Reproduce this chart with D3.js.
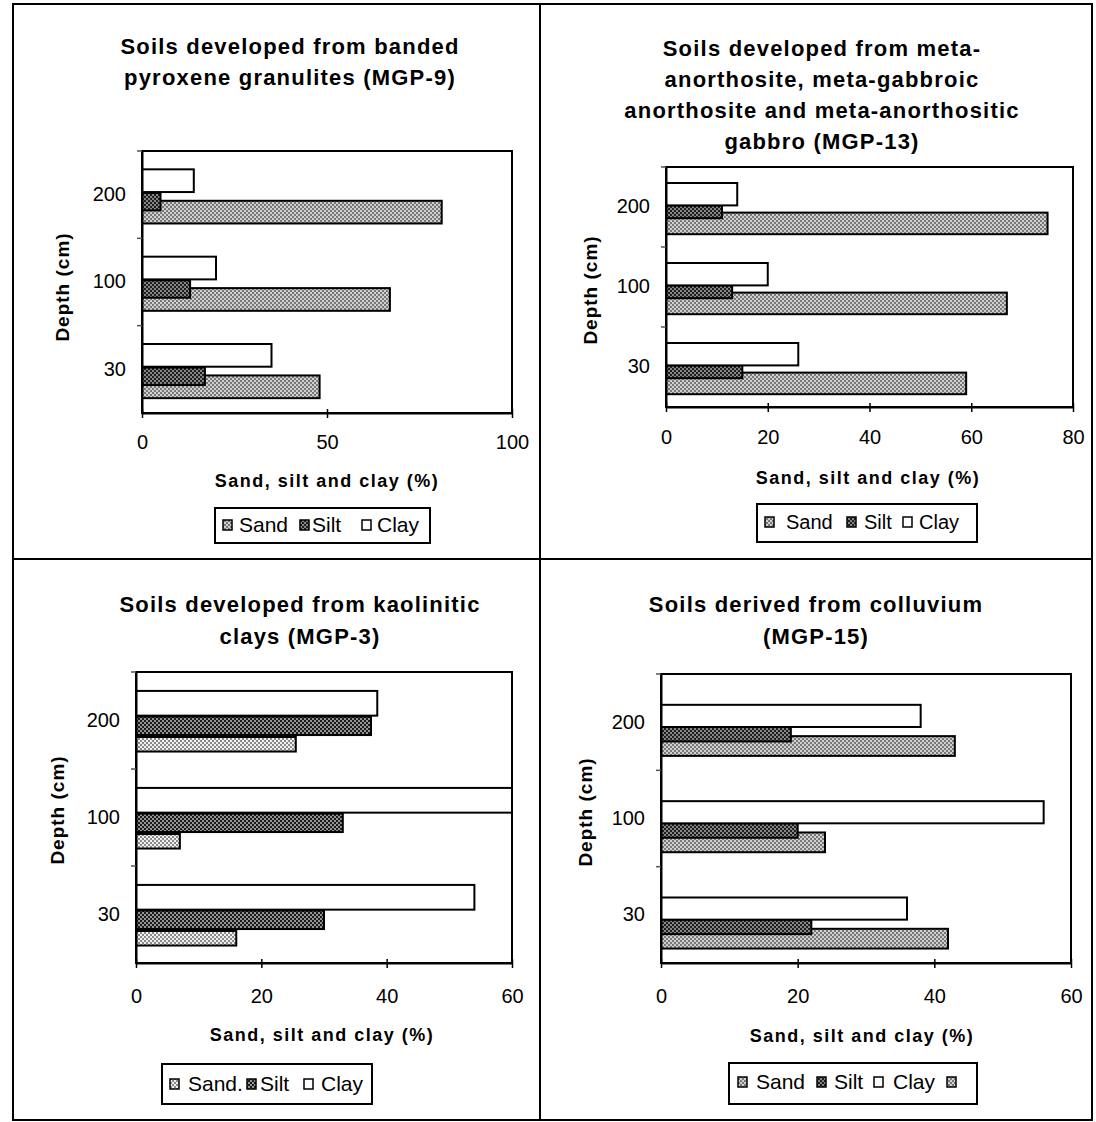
<!DOCTYPE html>
<html>
<head>
<meta charset="utf-8">
<script src="https://cdn.jsdelivr.net/npm/d3@7"></script>
<style>
  html, body { margin: 0; padding: 0; background: #fff; }
  svg { display: block; font-family: "Liberation Sans", Arial, sans-serif; }
</style>
</head>
<body>
<svg id="chart" width="1096" height="1122"></svg>
<script>
// Sampling depths (cm), bottom to top of each panel
const depths = ["30", "100", "200"];

// MGP-9: banded pyroxene granulites
const mgp9Sand = [48, 67, 81];
const mgp9Silt = [17, 13, 5];
const mgp9Clay = [35, 20, 14];

// MGP-13: meta-anorthosite / meta-gabbroic anorthosite / meta-anorthositic gabbro
const mgp13Sand = [59, 67, 75];
const mgp13Silt = [15, 13, 11];
const mgp13Clay = [26, 20, 14];

// MGP-3: kaolinitic clays
const mgp3Sand = [16, 7, 25.5];
const mgp3Silt = [30, 33, 37.5];
const mgp3Clay = [54, 60, 38.5];

// MGP-15: colluvium
const mgp15Sand = [42, 24, 43];
const mgp15Silt = [22, 20, 19];
const mgp15Clay = [36, 56, 38];

// Axis ticks
const ticks100 = [0, 50, 100];
const ticks80 = [0, 20, 40, 60, 80];
const ticks60 = [0, 20, 40, 60];

const axisTitleX = "Sand, silt and clay (%)";
const axisTitleY = "Depth (cm)";

const svg = d3.select("#chart");
const defs = svg.append("defs");

// Stipple fills used for the bars
function checker(id, a, b, size) {
  const p = defs.append("pattern").attr("id", id)
    .attr("patternUnits", "userSpaceOnUse")
    .attr("width", size * 2).attr("height", size * 2);
  p.append("rect").attr("width", size * 2).attr("height", size * 2).attr("fill", b);
  p.append("rect").attr("width", size).attr("height", size).attr("fill", a);
  p.append("rect").attr("x", size).attr("y", size).attr("width", size).attr("height", size).attr("fill", a);
}
checker("sandFill", "#777", "#d0d0d0", 2);
checker("siltFill", "#1e1e1e", "#858585", 2);
checker("sandLight", "#8a8a8a", "#f0f0f0", 2);
checker("siltDark", "#1a1a1a", "#959595", 2);

// Outer frame with the four-panel grid
const frame = { x0: 13, y0: 4, x1: 1092, y1: 1120, mx: 540, my: 559 };
const fg = svg.append("g").attr("fill", "none").attr("stroke", "#000").attr("stroke-width", 2);
fg.append("rect").attr("x", frame.x0).attr("y", frame.y0)
  .attr("width", frame.x1 - frame.x0).attr("height", frame.y1 - frame.y0);
fg.append("line").attr("x1", frame.mx).attr("x2", frame.mx).attr("y1", frame.y0).attr("y2", frame.y1);
fg.append("line").attr("x1", frame.x0).attr("x2", frame.x1).attr("y1", frame.my).attr("y2", frame.my);

const panels = [
  {
    title: ["Soils developed from banded", "pyroxene granulites (MGP-9)"],
    titleX: 290, titleY: 54, lineGap: 31,
    plot: { x0: 142, x1: 512, y0: 151, y1: 413 },
    xMax: 100, xTicks: ticks100,
    sand: mgp9Sand, silt: mgp9Silt, clay: mgp9Clay,
    sandFill: "url(#sandFill)", siltFill: "url(#siltFill)",
    frac: { clay: [0.21, 0.47], silt: [0.48, 0.68], sand: [0.57, 0.83] },
    yLabelX: 62, yLabelY: 287, xLabelX: 327, xLabelY: 487, xTickPad: 22,
    legend: { x: 215, y: 508, w: 215, h: 35, font: 21, baseline: 532,
      sw: [223, 300, 362], tx: [239, 312, 377], labels: ["Sand", "Silt", "Clay"] }
  },
  {
    title: ["Soils developed from meta-", "anorthosite, meta-gabbroic", "anorthosite and meta-anorthositic", "gabbro (MGP-13)"],
    titleX: 822, titleY: 56, lineGap: 31,
    plot: { x0: 666, x1: 1073, y0: 167, y1: 407 },
    xMax: 80, xTicks: ticks80,
    sand: mgp13Sand, silt: mgp13Silt, clay: mgp13Clay,
    sandFill: "url(#sandFill)", siltFill: "url(#siltFill)",
    frac: { clay: [0.2, 0.48], silt: [0.48, 0.64], sand: [0.57, 0.84] },
    yLabelX: 590, yLabelY: 290, xLabelX: 868, xLabelY: 484, xTickPad: 23,
    legend: { x: 757, y: 504, w: 220, h: 38, font: 20, baseline: 529,
      sw: [765, 847, 903], tx: [786, 864, 919], labels: ["Sand", "Silt", "Clay"] }
  },
  {
    title: ["Soils developed from kaolinitic", "clays (MGP-3)"],
    titleX: 300, titleY: 612, lineGap: 32,
    plot: { x0: 136, x1: 512, y0: 672, y1: 963 },
    xMax: 60, xTicks: ticks60,
    sand: mgp3Sand, silt: mgp3Silt, clay: mgp3Clay,
    sandFill: "url(#sandLight)", siltFill: "url(#siltDark)",
    frac: { clay: [0.195, 0.45], silt: [0.46, 0.65], sand: [0.67, 0.82] },
    yLabelX: 57, yLabelY: 810, xLabelX: 322, xLabelY: 1041, xTickPad: 26,
    legend: { x: 162, y: 1064, w: 210, h: 40, font: 21, baseline: 1091,
      sw: [170, 247, 304], tx: [188, 260, 321], labels: ["Sand.", "Silt", "Clay"] }
  },
  {
    title: ["Soils derived from colluvium", "(MGP-15)"],
    titleX: 816, titleY: 612, lineGap: 32,
    plot: { x0: 661, x1: 1071, y0: 674, y1: 963 },
    xMax: 60, xTicks: ticks60,
    sand: mgp15Sand, silt: mgp15Silt, clay: mgp15Clay,
    sandFill: "url(#sandFill)", siltFill: "url(#siltFill)",
    frac: { clay: [0.32, 0.55], silt: [0.55, 0.7], sand: [0.645, 0.85] },
    yLabelX: 585, yLabelY: 812, xLabelX: 862, xLabelY: 1042, xTickPad: 26,
    legend: { x: 729, y: 1063, w: 248, h: 41, font: 21, baseline: 1089,
      sw: [738, 817, 874, 947], tx: [756, 834, 893, null], labels: ["Sand", "Silt", "Clay", ""] }
  }
];

panels.forEach(p => {
  const g = svg.append("g");
  const { x0, x1, y0, y1 } = p.plot;

  // Title
  const t = g.append("text")
    .attr("x", p.titleX).attr("y", p.titleY)
    .attr("text-anchor", "middle")
    .attr("font-weight", "bold").attr("font-size", 22)
    .style("letter-spacing", "1.2px");
  p.title.forEach((line, i) => {
    t.append("tspan").attr("x", p.titleX).attr("y", p.titleY + i * p.lineGap).text(line);
  });

  const x = d3.scaleLinear().domain([0, p.xMax]).range([x0, x1]);
  const y = d3.scaleBand().domain(depths).range([y1, y0]).paddingInner(0).paddingOuter(0);
  const bw = y.bandwidth();

  // Plot area frame
  g.append("rect").attr("x", x0).attr("y", y0)
    .attr("width", x1 - x0).attr("height", y1 - y0)
    .attr("fill", "none").attr("stroke", "#000").attr("stroke-width", 2);

  // Bars: sand first, silt over it, clay on top row
  const series = [
    { key: "sand", vals: p.sand, fill: p.sandFill },
    { key: "silt", vals: p.silt, fill: p.siltFill },
    { key: "clay", vals: p.clay, fill: "#fff" }
  ];
  series.forEach(s => {
    const f = p.frac[s.key];
    g.append("g").selectAll("rect")
      .data(depths.map((d, i) => ({ depth: d, v: s.vals[i] })))
      .join("rect")
      .attr("x", x(0))
      .attr("y", d => y(d.depth) + f[0] * bw)
      .attr("width", d => x(d.v) - x(0))
      .attr("height", (f[1] - f[0]) * bw)
      .attr("fill", s.fill)
      .attr("stroke", "#000").attr("stroke-width", 2);
  });

  // Category axis (labels at band centres, ticks between bands)
  const ya = g.append("g").attr("transform", `translate(${x0},0)`)
    .call(d3.axisLeft(y).tickSize(0).tickPadding(16));
  ya.select(".domain").attr("stroke-width", 2);
  ya.selectAll("text").attr("font-size", 20).attr("fill", "#000")
    .attr("font-family", "'Liberation Sans', Arial, sans-serif");
  const bounds = depths.map(d => y(d));
  g.append("g").selectAll("line").data(bounds).join("line")
    .attr("x1", x0 - 5).attr("x2", x0)
    .attr("y1", d => d).attr("y2", d => d)
    .attr("stroke", "#555").attr("stroke-width", 1.5);

  // Value axis
  const xa = g.append("g").attr("transform", `translate(0,${y1})`)
    .call(d3.axisBottom(x).tickValues(p.xTicks).tickSize(0).tickPadding(p.xTickPad));
  xa.select(".domain").attr("stroke-width", 2);
  xa.selectAll("text").attr("font-size", 20).attr("fill", "#000")
    .attr("font-family", "'Liberation Sans', Arial, sans-serif");
  xa.selectAll(".tick").append("line")
    .attr("y1", -4).attr("y2", 5).attr("stroke", "#000").attr("stroke-width", 1.5);

  // Axis titles
  g.append("text")
    .attr("transform", `translate(${p.yLabelX},${p.yLabelY}) rotate(-90)`)
    .attr("text-anchor", "middle").attr("dy", "0.35em")
    .attr("font-weight", "bold").attr("font-size", 19)
    .style("letter-spacing", "1px")
    .text(axisTitleY);
  g.append("text")
    .attr("x", p.xLabelX).attr("y", p.xLabelY)
    .attr("text-anchor", "middle")
    .attr("font-weight", "bold").attr("font-size", 18)
    .style("letter-spacing", "1.5px")
    .text(axisTitleX);

  // Legend
  const L = p.legend;
  const lg = g.append("g");
  lg.append("rect").attr("x", L.x).attr("y", L.y).attr("width", L.w).attr("height", L.h)
    .attr("fill", "#fff").attr("stroke", "#000").attr("stroke-width", 2);
  const swFills = [p.sandFill, p.siltFill, "#fff", p.sandFill];
  L.labels.forEach((lab, i) => {
    lg.append("rect").attr("x", L.sw[i]).attr("y", L.baseline - 12).attr("width", 9).attr("height", 10)
      .attr("fill", swFills[i]).attr("stroke", "#000").attr("stroke-width", 1.5);
    if (lab) {
      lg.append("text").attr("x", L.tx[i]).attr("y", L.baseline)
        .attr("font-size", L.font).text(lab);
    }
  });
});
</script>
</body>
</html>
